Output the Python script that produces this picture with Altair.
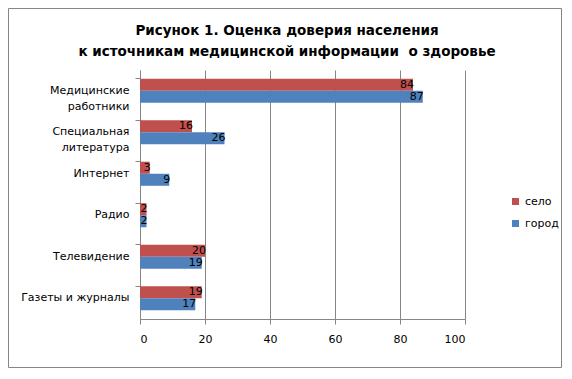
import altair as alt
import pandas as pd

categories = ["Медицинские|работники", "Специальная|литература", "Интернет", "Радио", "Телевидение", "Газеты и журналы"]
series = ["село", "город"]
selo = [84, 16, 3, 2, 20, 19]
gorod = [87, 26, 9, 2, 19, 17]
colors = ["#C0504D", "#4F81BD"]
title_lines = ["Рисунок 1. Оценка доверия населения", "к источникам медицинской информации\u00a0 о здоровье"]

rows = []
for c, a, b in zip(categories, selo, gorod):
    rows.append({"cat": c, "series": "село", "value": a})
    rows.append({"cat": c, "series": "город", "value": b})
df = pd.DataFrame(rows)

FONT = "DejaVu Sans"
W, H = 325, 249
PL, PT = 132, 62
TW, TH = 554, 360

y_enc = alt.Y("cat:N", sort=categories, title=None,
              scale=alt.Scale(paddingInner=0.42, paddingOuter=0.21),
              axis=alt.Axis(labelExpr="split(datum.label, '|')", labelLineHeight=16,
                            bandPosition=0, tickSize=5, tickColor="#868686",
                            domainColor="#868686", labelPadding=6, labelFontSize=11,
                            labelColor="black", labelFont=FONT, grid=False))
yoff = alt.YOffset("series:N", sort=series, scale=alt.Scale(paddingInner=0, paddingOuter=0))
x_enc = alt.X("value:Q", title=None,
              scale=alt.Scale(domain=[0, 100]),
              axis=alt.Axis(values=[0, 20, 40, 60, 80, 100], grid=True, gridColor="#868686",
                            tickSize=5, tickColor="#868686", domainColor="#868686",
                            labelPadding=9, labelFontSize=11, labelColor="black", labelFont=FONT))

base = alt.Chart(df)
bars = base.mark_bar().encode(
    x=x_enc, y=y_enc, yOffset=yoff,
    color=alt.Color("series:N", sort=series, scale=alt.Scale(domain=series, range=colors),
                    legend=alt.Legend(title=None, orient="none", legendX=370, legendY=126,
                                      symbolType="square", symbolSize=49, symbolStrokeWidth=0,
                                      labelFontSize=11, labelFont=FONT, labelColor="black",
                                      rowPadding=10)),
)
labels = base.mark_text(align="right", baseline="middle", dx=1, fontSize=11, font=FONT, color="black").encode(
    x="value:Q", y=alt.Y("cat:N", sort=categories), yOffset=alt.YOffset("series:N", sort=series), text="value:Q"
)
one = pd.DataFrame({"a": [0]})
border = alt.Chart(one).mark_rect(fill=None, stroke="#868686", strokeWidth=1).encode(
    x=alt.value(-PL + 0.5), x2=alt.value(TW - PL - 0.5),
    y=alt.value(-PT + 0.5), y2=alt.value(TH - PT - 0.5),
)
title = alt.Chart(one).mark_text(text=title_lines, fontSize=13.5, fontWeight="bold", font=FONT,
                                 align="center", baseline="top", lineHeight=21, color="black").encode(
    x=alt.value(147), y=alt.value(-46)
)

chart = alt.layer(bars, labels, border, title).properties(
    width=W, height=H,
    padding={"left": PL, "top": PT, "right": TW - PL - W, "bottom": TH - PT - H},
    autosize=alt.AutoSizeParams(type="none"),
    background="white",
).configure_view(stroke=None)

chart.save("out.html", embed_options={"renderer": "svg", "actions": False})
